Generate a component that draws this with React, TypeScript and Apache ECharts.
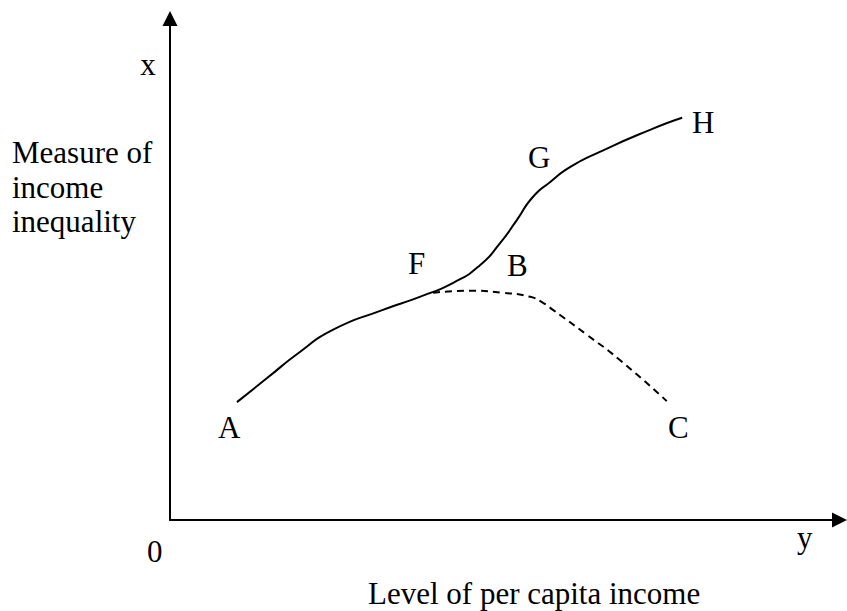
import React, { useEffect, useRef } from "react";
import * as echarts from "echarts";

// Solid curve A -> F -> G -> H (data units: income level, inequality)
const solidX = [10.0, 14.5, 19.4, 24.3, 31.8, 37.3, 42.3, 46.3, 49.3, 51.8, 54.2, 56.8, 59.8, 64.2, 71.7, 76.5];
const solidY = [23.5, 28.3, 33.5, 37.9, 41.9, 44.5, 47.3, 50.8, 55.2, 59.8, 64.4, 67.4, 70.4, 73.4, 77.8, 80.2];

// Dashed curve F -> B -> C
const dashedX = [39.3, 44.8, 49.7, 53.8, 55.6, 57.2, 62.3, 67.2, 74.2];
const dashedY = [45.3, 45.7, 45.3, 44.5, 43.4, 41.9, 36.9, 31.9, 23.7];

// Text labels
const pointLabels = ["A", "F", "B", "G", "H", "C"];
const yAxisTitleLines = ["Measure of", "income", "inequality"];
const xAxisTitle = "Level of per capita income";
const originLabel = "0";
const xEndLabel = "y";
const yEndLabel = "x";

const FONT = "'Liberation Serif', 'Times New Roman', serif";
const FS = 31;

export default function App() {
  const ref = useRef<HTMLDivElement>(null);
  useEffect(() => {
    if (!ref.current) return;
    const chart = echarts.init(ref.current, undefined, { renderer: "svg" });
    const txt = (text: string, x: number, baseline: number, align = "left") => ({
      type: "text",
      x,
      y: baseline - 0.34 * FS,
      style: {
        text,
        font: `${FS}px ${FONT}`,
        fill: "#000",
        align,
        verticalAlign: "middle",
      },
    });
    const labelPos: Record<string, [number, number]> = {
      A: [218, 438],
      F: [408, 274],
      B: [507, 276],
      G: [528, 168],
      H: [692, 133],
      C: [668, 438],
    };
    chart.setOption({
      animation: false,
      grid: { left: 170, right: 7.5, top: 18.5, bottom: 91, containLabel: false },
      xAxis: {
        type: "value",
        min: 0,
        max: 100,
        axisLine: {
          show: true,
          onZero: false,
          symbol: ["none", "triangle"],
          symbolSize: [15, 15],
          lineStyle: { color: "#000", width: 2 },
        },
        axisTick: { show: false },
        axisLabel: { show: false },
        splitLine: { show: false },
      },
      yAxis: {
        type: "value",
        min: 0,
        max: 100,
        axisLine: {
          show: true,
          onZero: false,
          symbol: ["none", "triangle"],
          symbolSize: [15, 15],
          lineStyle: { color: "#000", width: 2 },
        },
        axisTick: { show: false },
        axisLabel: { show: false },
        splitLine: { show: false },
      },
      series: [
        {
          type: "line",
          data: solidX.map((x, i) => [x, solidY[i]]),
          smooth: 0.6,
          showSymbol: false,
          lineStyle: { color: "#000", width: 2, type: "solid" },
        },
        {
          type: "line",
          data: dashedX.map((x, i) => [x, dashedY[i]]),
          smooth: 0.6,
          showSymbol: false,
          lineStyle: { color: "#000", width: 2, type: [7, 5] },
        },
      ],
      graphic: [
        txt(yEndLabel, 148, 75, "center"),
        ...yAxisTitleLines.map((l, i) => txt(l, 12, [163, 198, 232][i])),
        ...pointLabels.map((p) => txt(p, labelPos[p][0], labelPos[p][1])),
        txt(originLabel, 147, 562),
        txt(xEndLabel, 797, 548),
        txt(xAxisTitle, 368, 604),
      ],
    });
    return () => chart.dispose();
  }, []);
  return (
    <div
      ref={ref}
      style={{ position: "fixed", left: 0, top: 0, width: 847, height: 611, background: "#fff" }}
    />
  );
}
